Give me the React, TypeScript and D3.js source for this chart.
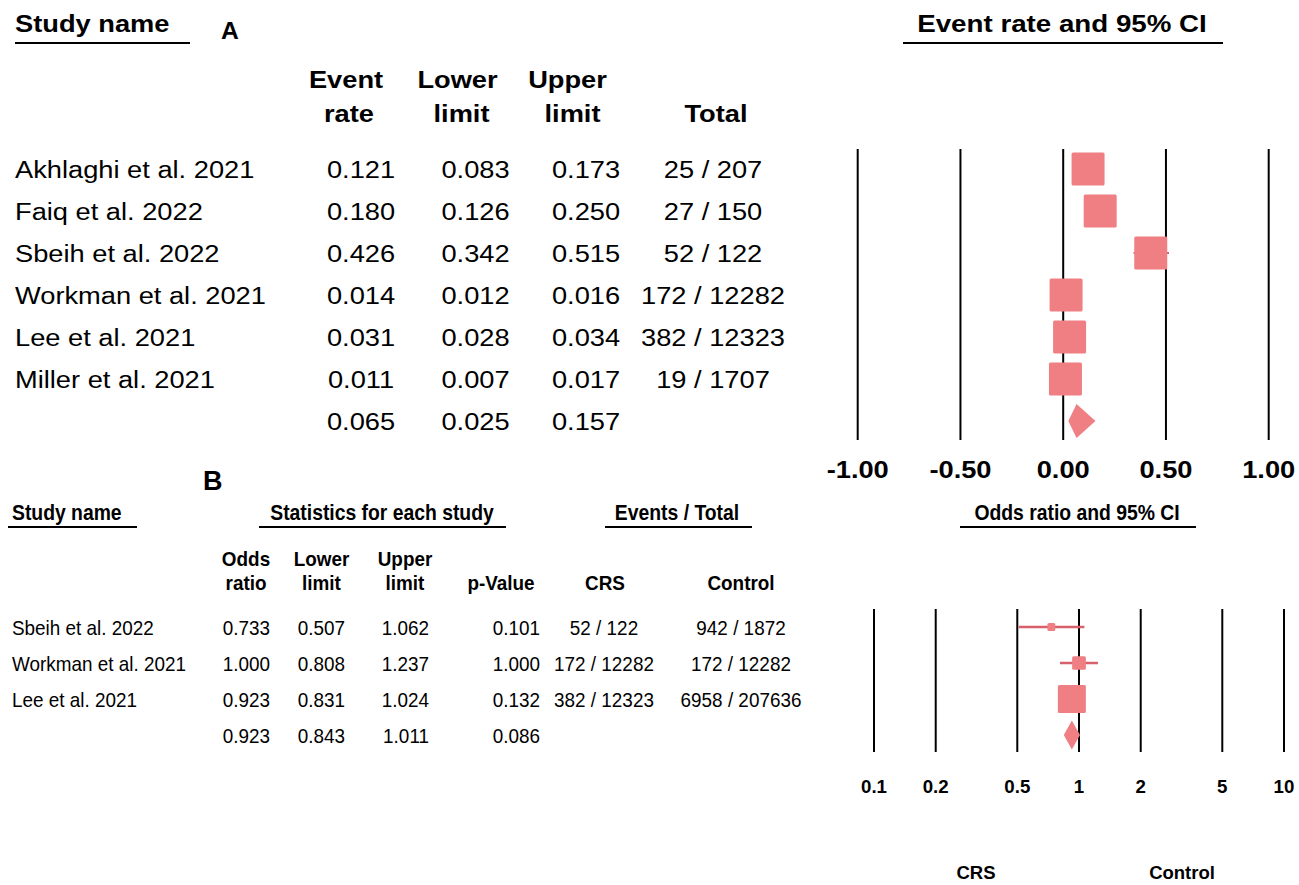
import React, { useEffect, useRef } from "react";
import * as d3 from "d3";

const FONT = "'Liberation Sans', Arial, Helvetica, sans-serif";
const BOX = "#f07f83";
const CI_LINE = "#d8606c";

// Panel A: single-arm event rates
const studiesA = [
  "Akhlaghi et al. 2021",
  "Faiq et al. 2022",
  "Sbeih et al. 2022",
  "Workman et al. 2021",
  "Lee et al. 2021",
  "Miller et al. 2021",
];
const rateA = [0.121, 0.18, 0.426, 0.014, 0.031, 0.011];
const lowerA = [0.083, 0.126, 0.342, 0.012, 0.028, 0.007];
const upperA = [0.173, 0.25, 0.515, 0.016, 0.034, 0.017];
const eventsA = [25, 27, 52, 172, 382, 19];
const totalsA = [207, 150, 122, 12282, 12323, 1707];
const weightsA = [16.7, 16.7, 16.7, 16.7, 16.7, 16.7];
const pooledA = [0.065, 0.025, 0.157]; // rate, lower, upper
const ticksA = [-1, -0.5, 0, 0.5, 1];

// Panel B: CRS vs control odds ratios
const studiesB = ["Sbeih et al. 2022", "Workman et al. 2021", "Lee et al. 2021"];
const orB = [0.733, 1.0, 0.923];
const lowerB = [0.507, 0.808, 0.831];
const upperB = [1.062, 1.237, 1.024];
const pB = [0.101, 1.0, 0.132];
const crsEvents = [52, 172, 382];
const crsTotals = [122, 12282, 12323];
const ctrlEvents = [942, 172, 6958];
const ctrlTotals = [1872, 12282, 207636];
const weightsB = [6.0, 18.2, 75.8];
const pooledB = [0.923, 0.843, 1.011, 0.086]; // OR, lower, upper, p
const ticksB = [0.1, 0.2, 0.5, 1, 2, 5, 10];

export default function App() {
  const svgRef = useRef<SVGSVGElement>(null);

  useEffect(() => {
    if (!svgRef.current) return;
    const svg = d3.select(svgRef.current);
    svg.selectAll("*").remove();

    const txt = (
      x: number,
      y: number,
      s: string,
      size: number,
      weight = "normal",
      anchor = "start",
      sx = 1
    ) =>
      svg
        .append("text")
        .attr("transform", `translate(${x},${y}) scale(${sx},1)`)
        .attr("font-family", FONT)
        .attr("font-size", size)
        .attr("font-weight", weight)
        .attr("text-anchor", anchor)
        .attr("fill", "#000")
        .text(s);

    const hline = (x1: number, x2: number, y: number) =>
      svg.append("line").attr("x1", x1).attr("x2", x2).attr("y1", y).attr("y2", y)
        .attr("stroke", "#000").attr("stroke-width", 2);

    const diamond = (xl: number, xc: number, xr: number, y: number, h: number) =>
      svg.append("path")
        .attr("d", `M${xl},${y}L${xc},${y - h / 2}L${xr},${y}L${xc},${y + h / 2}Z`)
        .attr("fill", BOX);

    // ---------- Panel A ----------
    const SA = 1.16; // horizontal stretch of panel A text
    const fA = 23.5;
    txt(15, 32, "Study name", fA, "bold", "start", SA);
    hline(15, 190, 43);
    txt(221, 39, "A", 23.5, "bold", "start", 1.05);
    txt(1062, 32, "Event rate and 95% CI", fA, "bold", "middle", 1.18);
    hline(903, 1223, 43);

    const headA: [string, string, number, number][] = [
      ["Event", "rate", 346, 349],
      ["Lower", "limit", 457.5, 461.5],
      ["Upper", "limit", 567.5, 572.5],
      ["", "Total", 716, 716],
    ];
    headA.forEach(([l1, l2, x1, x2]) => {
      if (l1) txt(x1, 88, l1, fA, "bold", "middle", SA);
      txt(x2, 122, l2, fA, "bold", "middle", SA);
    });

    const rowsA = [...studiesA, "pooled"];
    const yA = d3.scalePoint<string>().domain(rowsA).range([169, 421]);
    const xA = d3.scaleLinear().domain([-1, 1]).range([857.7, 1268.7]);
    const sideA = d3.scaleSqrt().domain([0, d3.max(weightsA) as number]).range([0, 33]);

    studiesA.forEach((name, i) => {
      const by = (yA(name) as number) + 8.5;
      txt(15, by, name, fA, "normal", "start", SA);
      txt(361, by, rateA[i].toFixed(3), fA, "normal", "middle", SA);
      txt(475.5, by, lowerA[i].toFixed(3), fA, "normal", "middle", SA);
      txt(586, by, upperA[i].toFixed(3), fA, "normal", "middle", SA);
      txt(713, by, `${eventsA[i]} / ${totalsA[i]}`, fA, "normal", "middle", SA);
    });
    const pyA = (yA("pooled") as number) + 8.5;
    txt(361, pyA, pooledA[0].toFixed(3), fA, "normal", "middle", SA);
    txt(475.5, pyA, pooledA[1].toFixed(3), fA, "normal", "middle", SA);
    txt(586, pyA, pooledA[2].toFixed(3), fA, "normal", "middle", SA);

    ticksA.forEach((t) => {
      svg.append("line")
        .attr("x1", xA(t)).attr("x2", xA(t)).attr("y1", 149).attr("y2", 440)
        .attr("stroke", "#000").attr("stroke-width", 2);
      txt(xA(t), 478, t.toFixed(2), fA, "bold", "middle", SA);
    });

    studiesA.forEach((name, i) => {
      const cy = yA(name) as number;
      svg.append("line")
        .attr("x1", xA(lowerA[i])).attr("x2", xA(upperA[i]))
        .attr("y1", cy).attr("y2", cy)
        .attr("stroke", CI_LINE).attr("stroke-width", 2);
      const s = sideA(weightsA[i]);
      svg.append("rect")
        .attr("x", xA(rateA[i]) - s / 2).attr("y", cy - s / 2)
        .attr("width", s).attr("height", s)
        .attr("rx", 1.5)
        .attr("fill", BOX);
    });
    diamond(xA(pooledA[1]), xA(pooledA[0]), xA(pooledA[2]), yA("pooled") as number, 34);

    // ---------- Panel B (narrower, taller lettering) ----------
    const SB = 0.9;
    const fB = 21;
    const fBh = 21.5;
    txt(203, 490, "B", 27, "bold");
    txt(12, 520, "Study name", fBh, "bold", "start", SB);
    hline(8, 137, 527);
    txt(382, 520, "Statistics for each study", fBh, "bold", "middle", SB);
    hline(259, 506, 527);
    txt(677, 520, "Events / Total", fBh, "bold", "middle", SB);
    hline(605, 752, 527);
    txt(1077, 520, "Odds ratio and 95% CI", fBh, "bold", "middle", SB);
    hline(960, 1196, 527);

    const headB: [string, string, number][] = [
      ["Odds", "ratio", 246],
      ["Lower", "limit", 321.5],
      ["Upper", "limit", 405],
      ["", "p-Value", 501],
      ["", "CRS", 605],
      ["", "Control", 741],
    ];
    headB.forEach(([l1, l2, x]) => {
      if (l1) txt(x, 566, l1, fB, "bold", "middle", SB);
      txt(x, 590, l2, fB, "bold", "middle", SB);
    });

    const rowsB = [...studiesB, "pooled"];
    const yB = d3.scalePoint<string>().domain(rowsB).range([627, 735]);
    const xB = d3.scaleLog().domain([0.1, 10]).range([874, 1284]);
    const sideB = d3.scaleSqrt().domain([0, d3.max(weightsB) as number]).range([0, 28]);
    const rightB = [270, 345, 429, 540];

    studiesB.forEach((name, i) => {
      const by = (yB(name) as number) + 7.5;
      txt(12, by, name, fB, "normal", "start", SB);
      [orB[i], lowerB[i], upperB[i], pB[i]].forEach((v, j) =>
        txt(rightB[j], by, v.toFixed(3), fB, "normal", "end", SB)
      );
      txt(604, by, `${crsEvents[i]} / ${crsTotals[i]}`, fB, "normal", "middle", SB);
      txt(741, by, `${ctrlEvents[i]} / ${ctrlTotals[i]}`, fB, "normal", "middle", SB);
    });
    const pyB = (yB("pooled") as number) + 7.5;
    pooledB.forEach((v, j) => txt(rightB[j], pyB, v.toFixed(3), fB, "normal", "end", SB));

    ticksB.forEach((t) => {
      svg.append("line")
        .attr("x1", xB(t)).attr("x2", xB(t)).attr("y1", 609).attr("y2", 752)
        .attr("stroke", "#000").attr("stroke-width", 2);
      txt(xB(t), 793, String(t), 18.7, "bold", "middle");
    });

    studiesB.forEach((name, i) => {
      const cy = yB(name) as number;
      svg.append("line")
        .attr("x1", xB(lowerB[i])).attr("x2", xB(upperB[i]))
        .attr("y1", cy).attr("y2", cy)
        .attr("stroke", CI_LINE).attr("stroke-width", 2.5);
      const s = sideB(weightsB[i]);
      svg.append("rect")
        .attr("x", xB(orB[i]) - s / 2).attr("y", cy - s / 2)
        .attr("width", s).attr("height", s)
        .attr("rx", 1.5)
        .attr("fill", BOX);
    });
    diamond(xB(pooledB[1]), xB(pooledB[0]), xB(pooledB[2]), yB("pooled") as number, 29);

    txt(976, 879, "CRS", 18.5, "bold", "middle");
    txt(1182, 879, "Control", 18.5, "bold", "middle");
  }, []);

  return (
    <svg
      ref={svgRef}
      width={1299}
      height={885}
      style={{ position: "absolute", left: 0, top: 0, background: "#fff" }}
    />
  );
}
